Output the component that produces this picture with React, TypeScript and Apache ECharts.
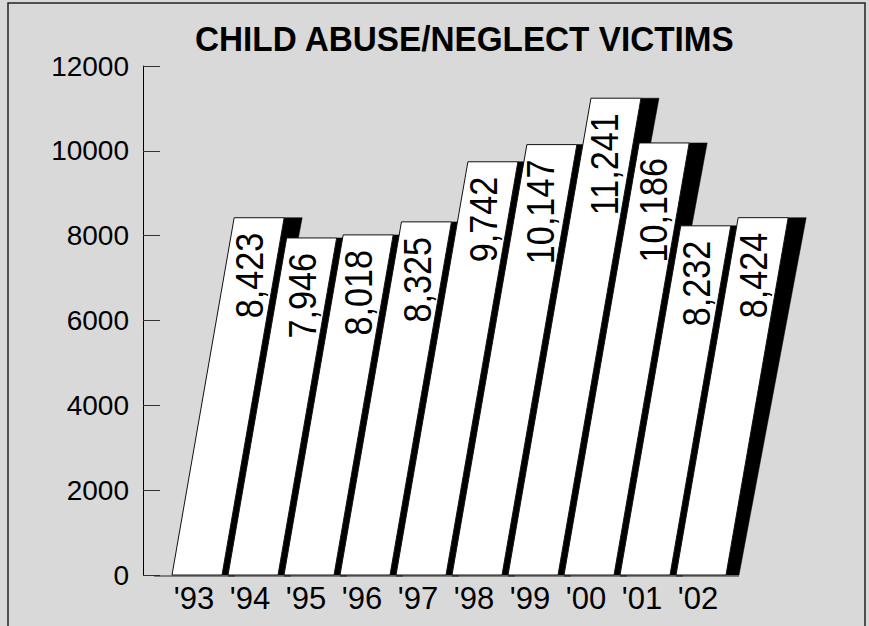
import React, { useEffect, useRef } from "react";
import * as echarts from "echarts";

// Fiscal years on the category axis and victim counts per year
const years = ["'93", "'94", "'95", "'96", "'97", "'98", "'99", "'00", "'01", "'02"];
const victims = [8423, 7946, 8018, 8325, 9742, 10147, 11241, 10186, 8232, 8424];
const yTicks = { min: 0, max: 12000, interval: 2000 };
const titleText = "CHILD ABUSE/NEGLECT VICTIMS";

const FONT = "'Liberation Sans', Arial, Helvetica, sans-serif";

// Slanted "3D" bar geometry, in pixels
const SKEW = 0.174; // horizontal lean per pixel of bar height
const BAR_W = 50;
const BAR_OFFSET = -22; // bar foot left edge relative to category centre
const SHADOW_TOP = 18;
const SHADOW_BOTTOM = 13;
const LABEL_SIZE = 38;
const LABEL_SQUEEZE = 0.9; // slightly condensed value labels
const LABEL_GAP = 15;

function fmt(v: number) {
  return v.toLocaleString("en-US");
}

export default function App() {
  const ref = useRef<HTMLDivElement>(null);

  useEffect(() => {
    if (!ref.current) return;
    const chart = echarts.init(ref.current, undefined, { renderer: "svg" });

    const renderItem = (params: any, api: any) => {
      const i = api.value(0);
      const v = api.value(1);
      const top = api.coord([i, v]);
      const base = api.coord([i, 0]);
      const y0 = base[1];
      const yt = top[1];
      const h = y0 - yt;
      const bl = base[0] + BAR_OFFSET;
      const br = bl + BAR_W;
      const tl = bl + SKEW * h;
      const tr = tl + BAR_W;

      const text = fmt(v);
      const digits = text.replace(/,/g, "").length;
      const commas = text.length - digits;
      const len = LABEL_SIZE * LABEL_SQUEEZE * (0.556 * digits + 0.278 * commas);
      const labelEnd = yt + LABEL_GAP;
      const midY = labelEnd + len / 2;
      const midX = bl + SKEW * (y0 - midY) + BAR_W / 2 + 1;

      const isFirst = params.dataIndex === 0;

      return {
        type: "group",
        children: [
          {
            type: "polygon",
            shape: {
              points: [
                [tr, yt],
                [tr + SHADOW_TOP, yt],
                [br + SHADOW_BOTTOM, y0],
                [br, y0],
              ],
            },
            style: { fill: "#000", stroke: "#000", lineWidth: 0.5 },
          },
          {
            type: "polygon",
            shape: {
              points: [
                [bl, y0],
                [tl, yt],
                [tr, yt],
                [br, y0],
              ],
            },
            style: { fill: "#fff", stroke: "#111", lineWidth: 1 },
          },
          {
            type: "line",
            shape: {
              x1: bl - (isFirst ? 18 : 0),
              y1: y0 + 1,
              x2: br + SHADOW_BOTTOM,
              y2: y0 + 1,
            },
            style: { stroke: "#222", lineWidth: 1 },
          },
          {
            type: "text",
            x: midX,
            y: labelEnd,
            rotation: Math.PI / 2,
            scaleX: LABEL_SQUEEZE,
            style: {
              text,
              x: 0,
              y: 0,
              align: "right",
              verticalAlign: "middle",
              fill: "#000",
              fontSize: LABEL_SIZE,
              fontFamily: FONT,
            },
          },
        ],
      };
    };

    chart.setOption({
      animation: false,
      backgroundColor: "#d9d9d9",
      grid: { left: 166, right: 143, top: 66, bottom: 51, containLabel: false },
      xAxis: {
        type: "category",
        data: years,
        axisLine: { show: false },
        axisTick: { show: false },
        axisLabel: {
          fontFamily: FONT,
          fontSize: 31,
          color: "#000",
          margin: 8,
          interval: 0,
        },
      },
      yAxis: {
        type: "value",
        min: yTicks.min,
        max: yTicks.max,
        interval: yTicks.interval,
        offset: 23,
        axisLine: { show: true, lineStyle: { color: "#000", width: 1 } },
        axisTick: { show: true, inside: true, length: 17, lineStyle: { color: "#333", width: 1 } },
        splitLine: { show: false },
        axisLabel: {
          fontFamily: FONT,
          fontSize: 28,
          color: "#000",
          margin: 14,
          formatter: (val: number) => String(val),
        },
      },
      graphic: [
        {
          type: "rect",
          silent: true,
          shape: { x: 8, y: 3, width: 857, height: 700 },
          style: { fill: "none", stroke: "#222", lineWidth: 1.5 },
        },
        {
          // condensed bold heading
          type: "text",
          silent: true,
          x: 195,
          y: 21,
          scaleX: 0.925,
          style: {
            text: titleText,
            x: 0,
            y: 0,
            align: "left",
            verticalAlign: "top",
            fill: "#000",
            fontFamily: FONT,
            fontWeight: "bold",
            fontSize: 36,
          },
        },
      ],
      series: [
        {
          type: "custom",
          renderItem,
          encode: { x: 0, y: 1 },
          data: victims.map((v, i) => [i, v]),
          clip: false,
        },
      ],
    });

    return () => chart.dispose();
  }, []);

  return (
    <div
      ref={ref}
      style={{ position: "absolute", left: 0, top: 0, width: 869, height: 626 }}
    />
  );
}
